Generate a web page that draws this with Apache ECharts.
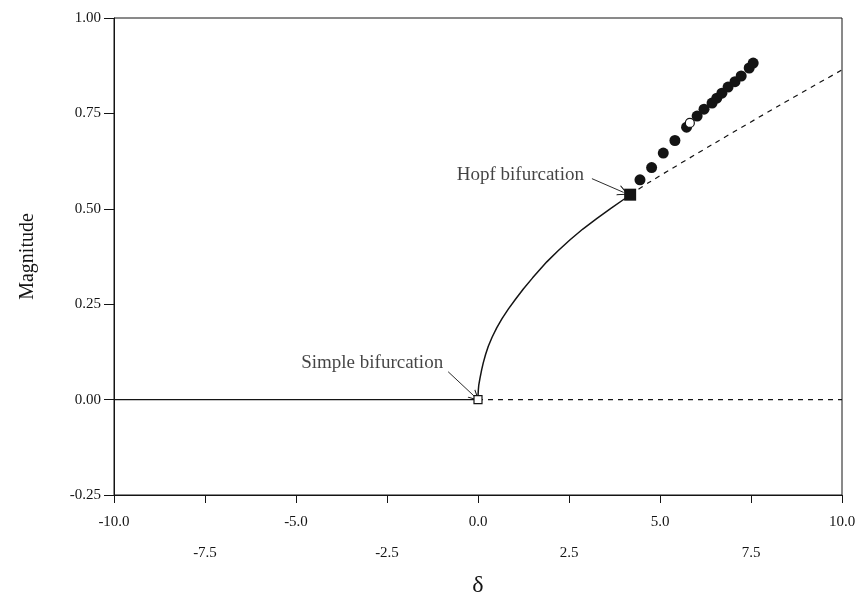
<!DOCTYPE html>
<html>
<head>
<meta charset="utf-8">
<script src="https://cdn.jsdelivr.net/npm/echarts@6/dist/echarts.min.js"></script>
<style>
  html, body { margin: 0; padding: 0; background: #fff; }
  #chart { width: 863px; height: 596px; }
</style>
</head>
<body>
<div id="chart"></div>
<script>
// Trivial branch: magnitude zero, stable left of the simple bifurcation, unstable to the right
const trivialStable = [[-10, 0], [0, 0]];
const trivialUnstable = [[0, 0], [10, 0]];

// Nontrivial branch from the simple bifurcation up to the Hopf point
const nontrivialStable = [
  [0.0, 0.0], [0.002, 0.012], [0.008, 0.024], [0.02, 0.037], [0.055, 0.056],
  [0.10, 0.078], [0.146, 0.097], [0.21, 0.119], [0.283, 0.140], [0.39, 0.164],
  [0.514, 0.188], [0.66, 0.212], [0.832, 0.237], [1.03, 0.263], [1.245, 0.290],
  [1.50, 0.319], [1.89, 0.361], [2.20, 0.390], [2.53, 0.419], [2.88, 0.447],
  [3.26, 0.474], [3.65, 0.501], [4.04, 0.527], [4.18, 0.537]
];

// Nontrivial branch beyond the Hopf point (unstable)
const nontrivialUnstable = [[4.18, 0.537], [4.73, 0.571], [6.5, 0.672], [8.30, 0.772], [10.0, 0.864]];

// Periodic solution amplitudes
const periodicStable = [
  [4.45, 0.576], [4.77, 0.608], [5.09, 0.646], [5.41, 0.679], [5.73, 0.714],
  [6.02, 0.743], [6.21, 0.761], [6.43, 0.777], [6.56, 0.790], [6.70, 0.803],
  [6.87, 0.819], [7.06, 0.833], [7.23, 0.848], [7.45, 0.869], [7.56, 0.882]
];
const periodicUnstable = [[5.82, 0.725]];

// Bifurcation points
const simplePoint = [[0, 0]];
const hopfPoint = [[4.18, 0.537]];

// Annotation arrows: [tail at the label, head at the point]
const simpleArrow = [[-0.82, 0.073], [-0.07, 0.006]];
const hopfArrow = [[3.13, 0.579], [4.0, 0.543]];

const xTicks = [-10, -7.5, -5, -2.5, 0, 2.5, 5, 7.5, 10];

const FONT = 'Liberation Serif';
const INK = '#141414';

const chart = echarts.init(document.getElementById('chart'));

chart.setOption({
  backgroundColor: '#fff',
  animation: false,
  grid: {
    left: 114, right: 21, top: 18, bottom: 101,
    outerBoundsMode: 'none', containLabel: false,
    show: true, borderColor: INK, borderWidth: 1
  },
  xAxis: {
    type: 'value', min: -10, max: 10, interval: 2.5,
    name: 'δ', nameLocation: 'middle', nameGap: 78,
    nameTextStyle: { fontFamily: FONT, fontSize: 24, color: INK },
    axisLine: { show: true, onZero: false, lineStyle: { color: INK, width: 1 } },
    axisTick: { show: true, inside: false, length: 8, lineStyle: { color: INK } },
    splitLine: { show: false },
    axisLabel: {
      fontFamily: FONT, fontSize: 15, color: INK, margin: 12, lineHeight: 31,
      formatter: function (v) {
        const idx = xTicks.findIndex(t => Math.abs(t - v) < 1e-9);
        const s = v.toFixed(1);
        return idx % 2 === 1 ? '\n' + s : s;
      }
    }
  },
  yAxis: {
    type: 'value', min: -0.25, max: 1.0, interval: 0.25,
    name: 'Magnitude', nameLocation: 'middle', nameGap: 76,
    nameTextStyle: { fontFamily: FONT, fontSize: 20, color: INK },
    axisLine: { show: true, onZero: false, lineStyle: { color: INK, width: 1 } },
    axisTick: { show: true, inside: false, length: 10, lineStyle: { color: INK } },
    splitLine: { show: false },
    axisLabel: {
      fontFamily: FONT, fontSize: 15, color: INK, margin: 13,
      formatter: v => v.toFixed(2)
    }
  },
  series: [
    {
      type: 'line', data: trivialStable, showSymbol: false, silent: true,
      lineStyle: { color: INK, width: 1.2, type: 'solid' }
    },
    {
      type: 'line', data: trivialUnstable, showSymbol: false, silent: true,
      lineStyle: { color: INK, width: 1.2, type: [5, 5] }
    },
    {
      type: 'line', data: nontrivialStable, showSymbol: false, silent: true,
      lineStyle: { color: INK, width: 1.5 }
    },
    {
      type: 'line', data: nontrivialUnstable, showSymbol: false, silent: true, smooth: 0.3,
      lineStyle: { color: INK, width: 1.2, type: [5, 5] }
    },
    {
      type: 'scatter', data: periodicStable, symbol: 'circle', symbolSize: 11,
      itemStyle: { color: INK, opacity: 1 }
    },
    {
      type: 'scatter', data: periodicUnstable, symbol: 'circle', symbolSize: 9,
      itemStyle: { color: '#fff', borderColor: INK, borderWidth: 1.2, opacity: 1 }, z: 3
    },
    {
      type: 'scatter', data: simplePoint, symbol: 'rect', symbolSize: 8,
      itemStyle: { color: '#fff', borderColor: INK, borderWidth: 1.2, opacity: 1 }, z: 4
    },
    {
      type: 'scatter', data: hopfPoint, symbol: 'rect', symbolSize: 12,
      itemStyle: { color: INK, opacity: 1 }, z: 4
    },
    {
      type: 'lines', coordinateSystem: 'cartesian2d', silent: true,
      data: [{ coords: simpleArrow }, { coords: hopfArrow }],
      symbol: ['none', 'path://M5,0 L10,12 L9,12 L5,2.5 L1,12 L0,12 Z'],
      symbolSize: [8, 11],
      lineStyle: { color: INK, width: 0.9, opacity: 1 }
    },
    {
      type: 'scatter', silent: true, symbolSize: 0,
      data: [
        { value: simpleArrow[0], label: { formatter: 'Simple bifurcation', position: 'left', distance: 5, offset: [0, -9] } },
        { value: hopfArrow[0], label: { formatter: 'Hopf bifurcation', position: 'left', distance: 8, offset: [0, -4] } }
      ],
      label: { show: true, fontFamily: FONT, fontSize: 19, color: INK }
    }
  ]
});
</script>
</body>
</html>
